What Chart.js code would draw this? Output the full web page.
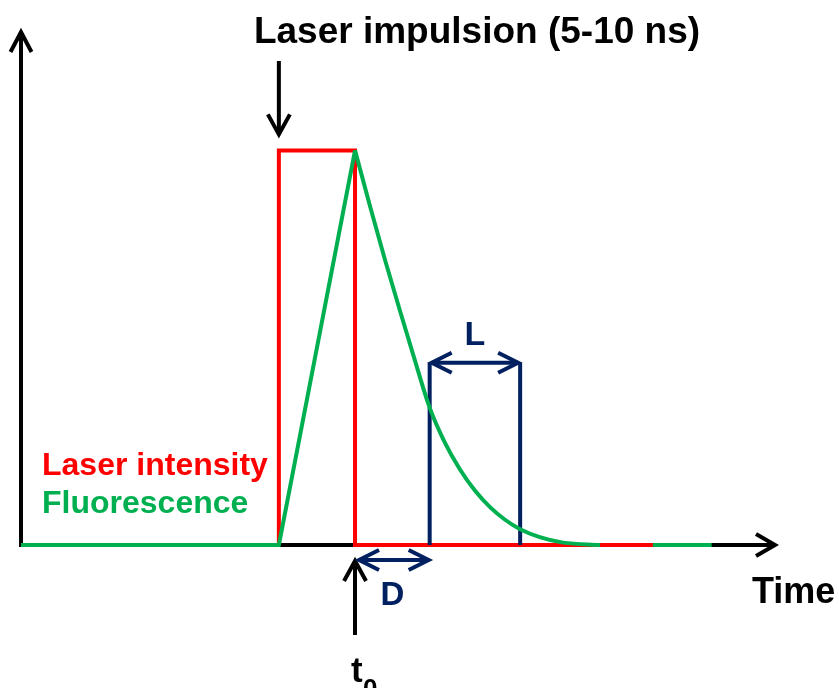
<!DOCTYPE html>
<html>
<head>
<meta charset="utf-8">
<script src="https://cdn.jsdelivr.net/npm/chart.js@4.4.1/dist/chart.umd.min.js"></script>
<style>
  html, body { margin: 0; padding: 0; background: #fff; }
  #wrap { width: 839px; height: 688px; }
</style>
</head>
<body>
<div id="wrap"><canvas id="chart"></canvas></div>
<script>
// ---- data (time in arbitrary units, intensity normalised to pulse height) ----
const laserX = [34.2, 34.2, 44.3, 44.3, 83.8];
const laserY = [0, 1, 1, 0, 0];

const fluoRiseX = [0, 34.2, 44.3];
const fluoRiseY = [0, 0, 1];

const fluoDecayX = [44.3, 46.3, 48.3, 50.3, 52.3, 54.2, 56.2, 58.2, 60.2, 62.2, 64.2, 66.2, 68.8, 71.9, 76.8];
const fluoDecayY = [1, 0.858, 0.721, 0.591, 0.464, 0.348, 0.26, 0.192, 0.138, 0.096, 0.064, 0.04, 0.02, 0.006, 0];

const fluoTailX = [76.8, 91.6];
const fluoTailY = [0, 0];

const t0 = 44.3;          // end of laser pulse
const gateStart = 54.2;   // t0 + D
const gateEnd = 66.2;     // t0 + D + L
const gateTop = 0.462;

const xMax = 100;
const yMax = 1.3;

const RED = "#ff0000";
const GREEN = "#00b050";
const NAVY = "#002060";
const FONT = "'Liberation Sans', Arial, sans-serif";

const pts = (xs, ys) => xs.map((x, i) => ({ x, y: ys[i] }));

// gate borders: two vertical lines separated by a gap
const gateData = [
  { x: gateStart, y: 0 }, { x: gateStart, y: gateTop },
  { x: gateStart, y: null },
  { x: gateEnd, y: 0 }, { x: gateEnd, y: gateTop }
];

/* ===============================
   helpers
   =============================== */
function chevron(ctx, tx, ty, dx, dy, len, half) {
  // open arrow head, tip at (tx,ty), pointing along (dx,dy)
  const px = -dy, py = dx;
  ctx.beginPath();
  ctx.moveTo(tx - dx * len + px * half, ty - dy * len + py * half);
  ctx.lineTo(tx, ty);
  ctx.lineTo(tx - dx * len - px * half, ty - dy * len - py * half);
  ctx.stroke();
}

function line(ctx, x1, y1, x2, y2) {
  ctx.beginPath();
  ctx.moveTo(x1, y1);
  ctx.lineTo(x2, y2);
  ctx.stroke();
}

function text(ctx, str, x, y, size, color, align) {
  ctx.font = "bold " + size + "px " + FONT;
  ctx.fillStyle = color;
  ctx.textAlign = align || "left";
  ctx.textBaseline = "alphabetic";
  ctx.fillText(str, x, y);
}

/* ===============================
   axes under the curves
   =============================== */
const axesPlugin = {
  id: "arrowAxes",
  beforeDatasetsDraw(chart) {
    const { ctx, scales: { x, y } } = chart;
    const x0 = x.getPixelForValue(0), x1 = x.getPixelForValue(xMax);
    const y0 = y.getPixelForValue(0), y1 = y.getPixelForValue(yMax);
    ctx.save();
    ctx.strokeStyle = "#000";
    ctx.lineWidth = 4;
    ctx.lineCap = "butt";
    line(ctx, x0, y0 + 2, x0, y1 + 1);
    line(ctx, x0, y0, x1 - 1, y0);
    ctx.lineJoin = "miter";
    chevron(ctx, x1, y0, 1, 0, 19, 11);
    chevron(ctx, x0, y1, 0, -1, 20, 10.5);
    ctx.restore();
  }
};

/* ===============================
   labels and markers on top
   =============================== */
const notesPlugin = {
  id: "notes",
  afterDatasetsDraw(chart) {
    const { ctx, scales: { x, y } } = chart;
    const base = y.getPixelForValue(0);
    const pulseTop = y.getPixelForValue(1);
    const laserOn = x.getPixelForValue(laserX[0]);
    const tEnd = x.getPixelForValue(t0);
    const gA = x.getPixelForValue(gateStart);
    const gB = x.getPixelForValue(gateEnd);
    const gTop = y.getPixelForValue(gateTop);

    ctx.save();
    ctx.lineWidth = 4;
    ctx.lineJoin = "miter";

    // laser pulse arrow
    ctx.strokeStyle = "#000";
    line(ctx, laserOn, 61, laserOn, pulseTop - 17);
    chevron(ctx, laserOn, pulseTop - 16, 0, 1, 20, 11);

    // t0 arrow
    line(ctx, tEnd, base + 90, tEnd, base + 17);
    chevron(ctx, tEnd, base + 16, 0, -1, 20, 11);

    // D arrow
    ctx.strokeStyle = NAVY;
    const dY = base + 15;
    line(ctx, tEnd + 5, dY, gA - 2, dY);
    chevron(ctx, tEnd + 4, dY, -1, 0, 20, 10);
    chevron(ctx, gA - 1, dY, 1, 0, 20, 10);

    // L arrow
    line(ctx, gA + 2, gTop, gB - 2, gTop);
    chevron(ctx, gA + 2, gTop, -1, 0, 20, 10);
    chevron(ctx, gB - 2, gTop, 1, 0, 20, 10);

    // texts
    text(ctx, "Laser impulsion (5-10 ns)", 477, 43, 37, "#000", "center");
    text(ctx, "Time", 752, 603, 36, "#000");
    text(ctx, "Laser intensity", 42, 475, 32, RED);
    text(ctx, "Fluorescence", 42, 513, 32, GREEN);
    text(ctx, "L", (gA + gB) / 2, 345, 34, NAVY, "center");
    text(ctx, "D", (tEnd + gA) / 2, 605, 33, NAVY, "center");
    text(ctx, "t", tEnd - 4, 682, 35, "#000");
    text(ctx, "0", tEnd + 8, 697, 26, "#000");
    ctx.restore();
  }
};

/* ===============================
   chart
   =============================== */
const lineDefaults = {
  showLine: true,
  pointRadius: 0,
  borderWidth: 4,
  fill: false,
  clip: false,
  borderJoinStyle: "miter",
  borderCapStyle: "butt"
};

new Chart(document.getElementById("chart"), {
  type: "scatter",
  data: {
    datasets: [
      { ...lineDefaults, label: "Fluorescence tail", data: pts(fluoTailX, fluoTailY), borderColor: GREEN, order: 5 },
      { ...lineDefaults, label: "Laser intensity", data: pts(laserX, laserY), borderColor: RED, order: 4 },
      { ...lineDefaults, label: "Gate", data: gateData, borderColor: NAVY, spanGaps: false, order: 3 },
      { ...lineDefaults, label: "Fluorescence rise", data: pts(fluoRiseX, fluoRiseY), borderColor: GREEN, order: 2 },
      { ...lineDefaults, label: "Fluorescence", data: pts(fluoDecayX, fluoDecayY), borderColor: GREEN,
        cubicInterpolationMode: "monotone", order: 1 }
    ]
  },
  options: {
    responsive: true,
    maintainAspectRatio: false,
    animation: false,
    layout: { padding: { left: 21, right: 64, top: 32, bottom: 143 } },
    plugins: {
      legend: { display: false },
      tooltip: { enabled: false }
    },
    scales: {
      x: { type: "linear", min: 0, max: xMax, display: false },
      y: { type: "linear", min: 0, max: yMax, display: false }
    }
  },
  plugins: [axesPlugin, notesPlugin]
});
</script>
</body>
</html>
